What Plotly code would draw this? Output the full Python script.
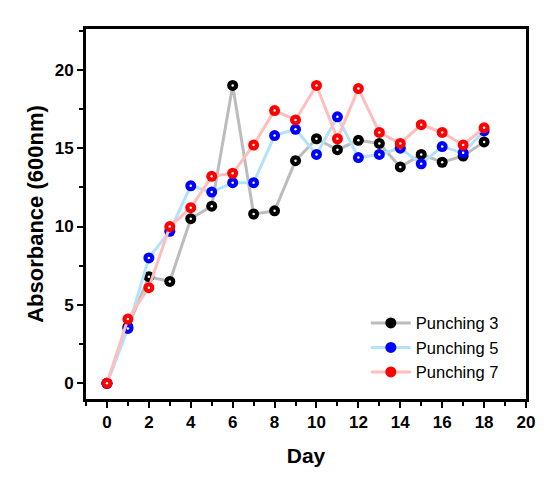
import plotly.graph_objects as go

days = list(range(0, 19))
punching3 = [0, 3.6, 6.8, 6.5, 10.5, 11.3, 19.0, 10.8, 11.0, 14.2, 15.6,
             14.9, 15.5, 15.3, 13.8, 14.6, 14.1, 14.5, 15.4]
punching5 = [0, 3.5, 8.0, 9.7, 12.6, 12.2, 12.8, 12.8, 15.8, 16.2, 14.6,
             17.0, 14.4, 14.6, 15.0, 14.0, 15.1, 14.7, 16.1]
punching7 = [0, 4.1, 6.1, 10.0, 11.2, 13.2, 13.4, 15.2, 17.4, 16.8, 19.0,
             15.6, 18.8, 16.0, 15.3, 16.5, 16.0, 15.2, 16.3]

series = [
    ("Punching 3", punching3, "#bcbcbc", "#000000"),
    ("Punching 5", punching5, "#b3e2fb", "#0000ff"),
    ("Punching 7", punching7, "#ffbdbd", "#ff0000"),
]

FONT = "Arial, Liberation Sans, sans-serif"

fig = go.Figure()
for name, vals, lc, mc in series:
    fig.add_trace(go.Scatter(
        x=days, y=vals, name=name, mode="lines+markers",
        line=dict(color=lc, width=3),
        marker=dict(color=mc, size=11, symbol="circle", line=dict(width=0)),
    ))
    fig.add_trace(go.Scatter(
        x=days, y=vals, mode="markers", showlegend=False, hoverinfo="skip",
        marker=dict(color="white", size=2.5, symbol="circle", line=dict(width=0)),
    ))

axis_common = dict(
    showline=True, linecolor="black", linewidth=3, mirror=True,
    ticks="outside", tickwidth=2, ticklen=6, tickcolor="black",
    showgrid=False, zeroline=False, automargin=False,
    tickfont=dict(family=FONT, size=17, color="black", weight="bold"),
)

fig.update_xaxes(
    range=[-1, 20], tickmode="array", tickvals=list(range(0, 21, 2)),
    minor=dict(ticks="outside", dtick=1, tick0=0, ticklen=4, tickwidth=2, tickcolor="black"),
    title=dict(text="<b>Day</b>", font=dict(family=FONT, size=21, color="black"),
               standoff=17),
    **axis_common,
)
fig.update_yaxes(
    range=[-1, 22.6], tickmode="array", tickvals=[0, 5, 10, 15, 20],
    minor=dict(ticks="outside", dtick=2.5, tick0=0, ticklen=4, tickwidth=2, tickcolor="black"),
    title=dict(text="<b>Absorbance (600nm)</b>", font=dict(family=FONT, size=22, color="black"),
               standoff=5),
    **axis_common,
)

# page body has an 8px default margin; compensate so the plot area lands where the reference has it
fig.update_layout(
    width=545, height=475,
    margin=dict(l=78, r=27, t=21, b=84),
    plot_bgcolor="white", paper_bgcolor="white",
    showlegend=True,
    legend=dict(x=0.636, y=0.252, xanchor="left", yanchor="top",
                bgcolor="rgba(0,0,0,0)", tracegroupgap=0, itemwidth=40,
                font=dict(family=FONT, size=16.5, color="black")),
)

fig.write_html("out.html")
